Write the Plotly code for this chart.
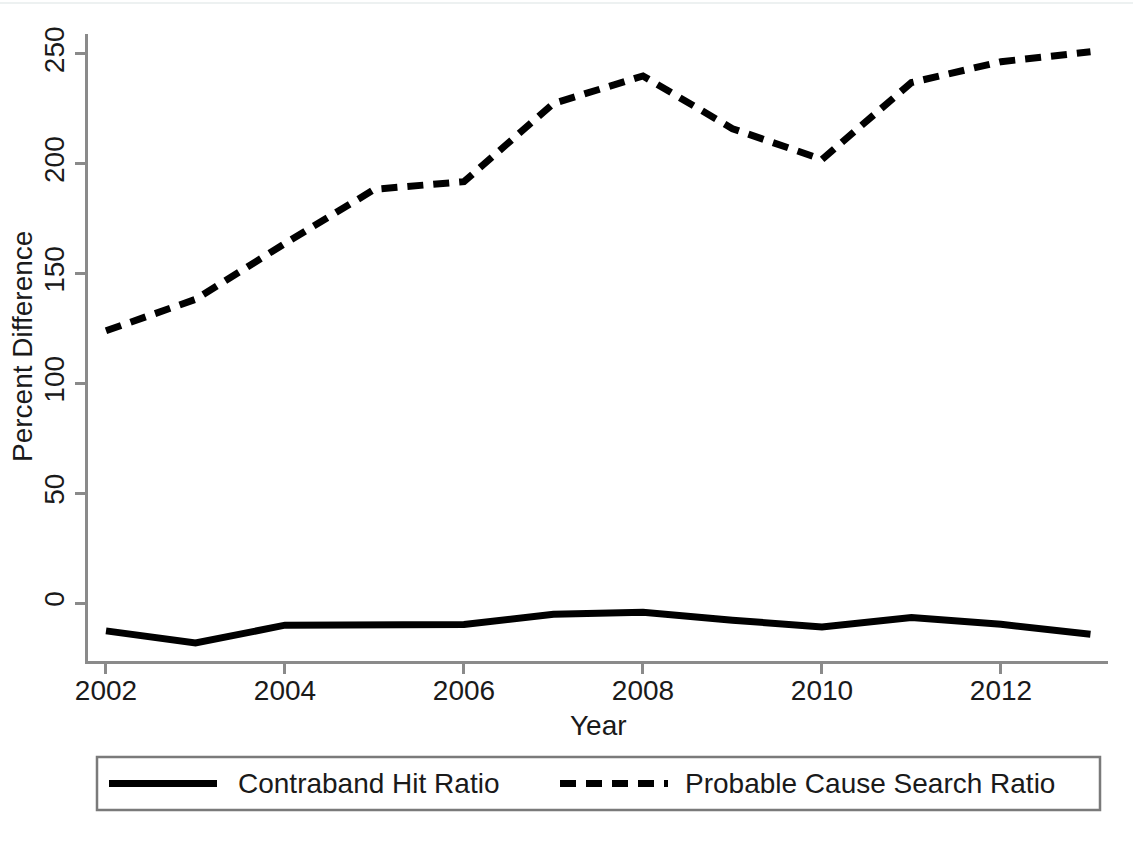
import plotly.graph_objects as go

# Yearly series: percent difference
years = [2002, 2003, 2004, 2005, 2006, 2007, 2008, 2009, 2010, 2011, 2012, 2013]
contraband_hit_ratio = [-12.6, -18.1, -10.0, -9.6, -9.7, -5.0, -4.1, -7.7, -10.8, -6.5, -9.6, -14.1]
probable_cause_search_ratio = [124.0, 138.3, 163.8, 188.4, 191.9, 227.5, 240.0, 216.0, 202.0, 237.0, 246.5, 251.0]

x_ticks = [2002, 2004, 2006, 2008, 2010, 2012]
y_ticks = [0, 50, 100, 150, 200, 250]

series_names = ["Contraband Hit Ratio", "Probable Cause Search Ratio"]

# Canvas and plot-region geometry (pixels)
W, H = 1133, 846
L, R, T, B = 88, 25, 34, 185
PW, PH = W - L - R, H - T - B

def px_x(x):
    return (x - L) / PW

def px_y(y):
    return (H - B - y) / PH

FONT = "Liberation Sans, Arial, Helvetica, sans-serif"
TEXT = "#1a1a1a"
AXIS = "#8a8a8a"
LINE_W = 7
DASH = "16px,10px"

fig = go.Figure()
fig.add_trace(go.Scatter(
    x=years, y=contraband_hit_ratio, mode="lines", name=series_names[0],
    line=dict(color="black", width=LINE_W),
))
fig.add_trace(go.Scatter(
    x=years, y=probable_cause_search_ratio, mode="lines", name=series_names[1],
    line=dict(color="black", width=LINE_W, dash=DASH),
))

axis_common = dict(
    showgrid=False, zeroline=False, showline=True, linecolor=AXIS, linewidth=2.5,
    ticks="outside", ticklen=10, tickwidth=2.5, tickcolor=AXIS,
    tickfont=dict(family=FONT, size=28, color=TEXT), mirror=False,
)
fig.update_xaxes(range=[2001.799, 2013.196], tickvals=x_ticks, ticklabelstandoff=-7, **axis_common)
fig.update_yaxes(range=[-26.3, 259.1], tickvals=y_ticks, tickangle=-90, **axis_common)

annotations = [
    dict(text="Year", x=0.5, y=px_y(725), xref="paper", yref="paper",
         showarrow=False, xanchor="center", yanchor="middle",
         font=dict(family=FONT, size=28, color=TEXT)),
    dict(text="Percent Difference", x=px_x(22), y=px_y(347), xref="paper", yref="paper",
         showarrow=False, xanchor="center", yanchor="middle", textangle=-90,
         font=dict(family=FONT, size=28, color=TEXT)),
    dict(text=series_names[0], x=px_x(236), y=px_y(783), xref="paper", yref="paper",
         showarrow=False, xanchor="left", yanchor="middle",
         font=dict(family=FONT, size=28, color=TEXT)),
    dict(text=series_names[1], x=px_x(683), y=px_y(783), xref="paper", yref="paper",
         showarrow=False, xanchor="left", yanchor="middle",
         font=dict(family=FONT, size=28, color=TEXT)),
]

shapes = [
    # faint frame line along the top edge
    dict(type="line", xref="paper", yref="paper", x0=px_x(0), x1=px_x(W),
         y0=px_y(3), y1=px_y(3), line=dict(color="#edf1f1", width=2)),
    # legend box
    dict(type="rect", xref="paper", yref="paper", x0=px_x(97), x1=px_x(1100),
         y0=px_y(810), y1=px_y(757), line=dict(color="#7a7a7a", width=2.5),
         fillcolor="white"),
    # legend line samples
    dict(type="line", xref="paper", yref="paper", x0=px_x(109), x1=px_x(217),
         y0=px_y(783.5), y1=px_y(783.5), line=dict(color="black", width=LINE_W)),
    dict(type="line", xref="paper", yref="paper", x0=px_x(560), x1=px_x(668),
         y0=px_y(783.5), y1=px_y(783.5), line=dict(color="black", width=LINE_W, dash=DASH)),
]

fig.update_layout(
    width=W, height=H,
    margin=dict(l=L, r=R, t=T, b=B, autoexpand=False),
    paper_bgcolor="white", plot_bgcolor="white",
    showlegend=False,
    annotations=annotations, shapes=shapes,
    font=dict(family=FONT, color=TEXT),
)

fig.write_html("out.html")
